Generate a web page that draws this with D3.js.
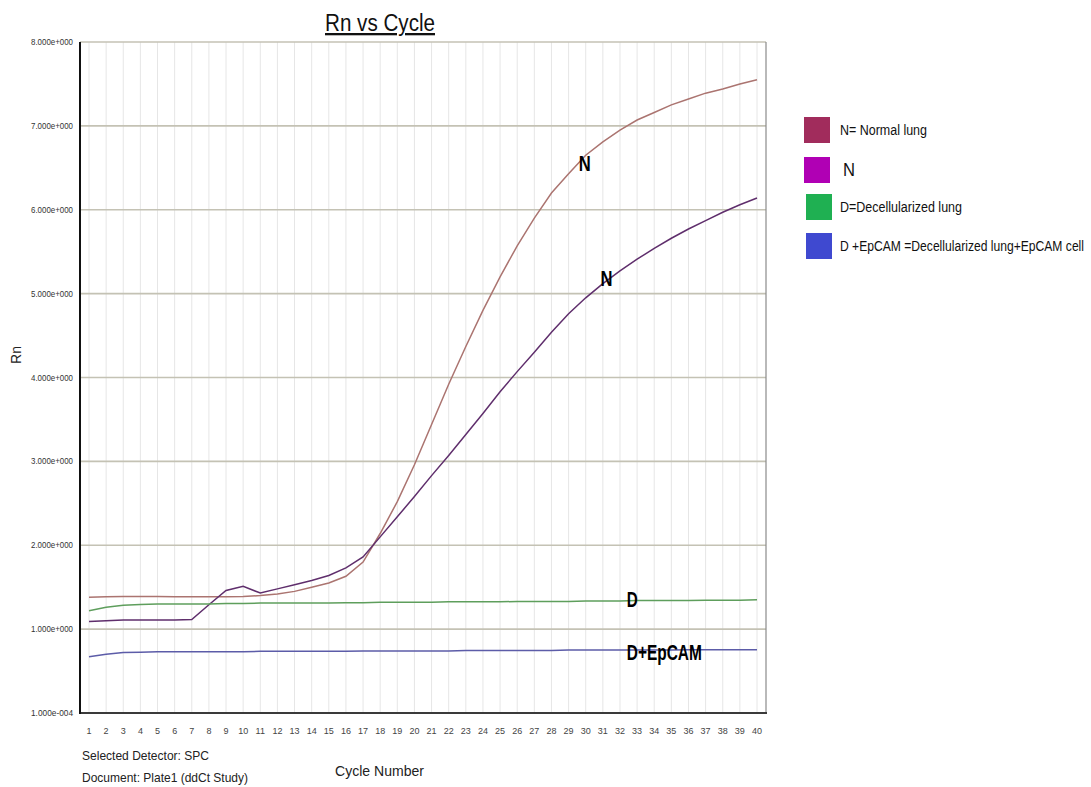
<!DOCTYPE html>
<html><head><meta charset="utf-8">
<script src="https://cdn.jsdelivr.net/npm/d3@7/dist/d3.min.js"></script>
<style>body{margin:0;background:#fff}svg{display:block}</style>
</head><body>
<svg id="c" width="1091" height="787"></svg>
<script>
const cycles = d3.range(1, 41);
const normalLung = [1.38,1.385,1.39,1.39,1.39,1.385,1.385,1.385,1.385,1.39,1.40,1.42,1.45,1.50,1.55,1.63,1.80,2.14,2.52,2.96,3.44,3.92,4.37,4.80,5.20,5.57,5.90,6.20,6.43,6.65,6.81,6.95,7.07,7.16,7.25,7.32,7.39,7.44,7.50,7.55];
const normalLung2 = [1.09,1.10,1.11,1.11,1.11,1.11,1.115,1.29,1.46,1.51,1.43,1.48,1.53,1.58,1.64,1.73,1.86,2.10,2.34,2.58,2.83,3.07,3.32,3.57,3.83,4.07,4.30,4.54,4.76,4.95,5.12,5.27,5.41,5.54,5.66,5.77,5.87,5.97,6.06,6.14];
const decell = [1.22,1.26,1.285,1.295,1.30,1.30,1.30,1.30,1.305,1.305,1.31,1.31,1.31,1.31,1.31,1.315,1.315,1.32,1.32,1.32,1.32,1.325,1.325,1.325,1.325,1.33,1.33,1.33,1.33,1.335,1.335,1.335,1.34,1.34,1.34,1.34,1.345,1.345,1.345,1.35];
const decellEpcam = [0.67,0.70,0.72,0.725,0.73,0.73,0.73,0.73,0.73,0.73,0.735,0.735,0.735,0.735,0.735,0.735,0.74,0.74,0.74,0.74,0.74,0.74,0.745,0.745,0.745,0.745,0.745,0.745,0.75,0.75,0.75,0.75,0.75,0.75,0.75,0.755,0.755,0.755,0.755,0.755];
const yTicks = [0.0001,1,2,3,4,5,6,7,8];
const lineColors = ["#ab7470","#5f2e6c","#5e9e5c","#5c5ca8"];
const legendLabels = ["N= Normal lung","N","D=Decellularized lung","D +EpCAM =Decellularized lung+EpCAM cell"];
const legendColors = ["#a12c5c","#b000b4","#1fb052","#3f49d0"];
const annotations = [{t:"N",c:29.6,v:6.56,w:12},{t:"N",c:30.87,v:5.19,w:12},{t:"D",c:32.4,v:1.365,w:11},{t:"D+EpCAM",c:32.4,v:0.727,w:75}];

const svg = d3.select("#c");
const x = d3.scaleLinear().domain([1,40]).range([89,757]);
const y = d3.scaleLinear().domain([0,8]).range([713,42]);
const L = 80, R = 766, T = 42, B = 713;
const narrow = "Liberation Sans Narrow, Liberation Sans, Arial, sans-serif";
const sans = "Liberation Sans, Arial, sans-serif";

// vertical grid
svg.append("g").selectAll("line").data(cycles).join("line")
  .attr("x1",d=>x(d)).attr("x2",d=>x(d)).attr("y1",T).attr("y2",B)
  .attr("stroke","#e6e6e6").attr("stroke-width",1);
// horizontal grid
svg.append("g").selectAll("line").data(yTicks.slice(1)).join("line")
  .attr("x1",L).attr("x2",R).attr("y1",d=>y(d)).attr("y2",d=>y(d))
  .attr("stroke","#c4c2b4").attr("stroke-width",1.6);

// frame
svg.append("line").attr("x1",R).attr("x2",R).attr("y1",T).attr("y2",B).attr("stroke","#8a8a8a").attr("stroke-width",1.2);
svg.append("line").attr("x1",L).attr("x2",R+1).attr("y1",B).attr("y2",B).attr("stroke","#3a3a3a").attr("stroke-width",2.2);
svg.append("line").attr("x1",L).attr("x2",L).attr("y1",T).attr("y2",B+1).attr("stroke","#111").attr("stroke-width",2);

// y tick labels
const fmt = v => { const s = v.toExponential(3); const [m,e] = s.split("e"); return m+"e"+e[0]+e.slice(1).padStart(3,"0"); };
svg.append("g").selectAll("text").data(yTicks).join("text")
  .attr("x",73).attr("y",d=>y(d)+3).attr("text-anchor","end")
  .attr("font-family",narrow).attr("font-size",8.5).attr("fill","#333")
  .attr("textLength",42).attr("lengthAdjust","spacingAndGlyphs")
  .text(fmt);
// x tick labels
svg.append("g").selectAll("text").data(cycles).join("text")
  .attr("x",d=>x(d)).attr("y",734).attr("text-anchor","middle")
  .attr("font-family",narrow).attr("font-size",9).attr("fill","#444")
  .text(d=>d);

// lines
const allSeries = [normalLung, normalLung2, decell, decellEpcam];
const line = d3.line().x((d,i)=>x(cycles[i])).y(d=>y(d));
svg.append("g").selectAll("path").data(allSeries).join("path")
  .attr("d",line).attr("fill","none")
  .attr("stroke",(d,i)=>lineColors[i]).attr("stroke-width",1.5);

// annotations
svg.append("g").selectAll("text").data(annotations).join("text")
  .attr("x",d=>x(d.c)).attr("y",d=>y(d.v)+8).attr("text-anchor","start")
  .attr("font-family",narrow).attr("font-weight","bold")
  .attr("font-size",22).attr("fill","#000")
  .attr("textLength",d=>d.w).attr("lengthAdjust","spacingAndGlyphs")
  .text(d=>d.t);

// title
svg.append("text").attr("x",325).attr("y",31)
  .attr("font-family",sans).attr("font-size",23).attr("fill","#111")
  .attr("textLength",110).attr("lengthAdjust","spacingAndGlyphs")
  .attr("text-decoration","underline").text("Rn vs Cycle");
// axis titles
svg.append("text").attr("transform","translate(21,355) rotate(-90)").attr("text-anchor","middle")
  .attr("font-family",sans).attr("font-size",14).attr("fill","#222").text("Rn");
svg.append("text").attr("x",335).attr("y",776)
  .attr("font-family",sans).attr("font-size",15).attr("fill","#222")
  .attr("textLength",89).attr("lengthAdjust","spacingAndGlyphs").text("Cycle Number");
svg.append("text").attr("x",82).attr("y",760)
  .attr("font-family",sans).attr("font-size",13).attr("fill","#222")
  .attr("textLength",127).attr("lengthAdjust","spacingAndGlyphs").text("Selected Detector: SPC");
svg.append("text").attr("x",82).attr("y",782)
  .attr("font-family",sans).attr("font-size",13).attr("fill","#222")
  .attr("textLength",166).attr("lengthAdjust","spacingAndGlyphs").text("Document: Plate1 (ddCt Study)");

// legend
const lg = svg.append("g");
const ly = [130, 170, 207, 246];
const lw = [87, 12, 122, 244];
lg.selectAll("rect").data(legendLabels).join("rect")
  .attr("x",(d,i)=>804+ (i>1?2:0)).attr("y",(d,i)=>ly[i]-13).attr("width",26).attr("height",26)
  .attr("fill",(d,i)=>legendColors[i]);
lg.selectAll("text").data(legendLabels).join("text")
  .attr("x",(d,i)=>i===1?843:840).attr("y",(d,i)=>ly[i]+(i===1?6:5))
  .attr("font-family",narrow)
  .attr("font-size",(d,i)=>i===1?18:15.5).attr("fill","#111")
  .attr("textLength",(d,i)=>lw[i]).attr("lengthAdjust","spacingAndGlyphs")
  .text(d=>d);
</script>
</body></html>
